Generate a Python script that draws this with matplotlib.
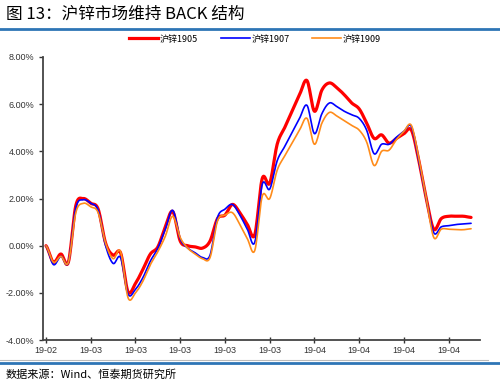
import numpy as np
import matplotlib
matplotlib.use('Agg')
import matplotlib.pyplot as plt
from matplotlib.lines import Line2D

plt.rcParams['font.family'] = ['Noto Sans CJK SC', 'DejaVu Sans']

# 数据（单位：%）
zn1905 = [0.0, -0.7, -0.35, -0.7, 1.7, 2.0, 1.8, 1.55, 0.1, -0.4,
          -0.3, -1.95, -1.6, -1.0, -0.35, -0.05, 0.8, 1.45, 0.2, 0.0,
          -0.05, -0.1, 0.2, 1.15, 1.3, 1.75, 1.4, 0.9, 0.47, 2.85,
          2.65, 4.3, 5.0, 5.7, 6.4, 7.0, 5.7, 6.6, 6.9, 6.7,
          6.4, 6.05, 5.8, 5.2, 4.55, 4.7, 4.35, 4.55, 4.75, 4.9,
          3.6, 2.0, 0.7, 1.15, 1.25, 1.25, 1.25, 1.2]
zn1907 = [0.0, -0.8, -0.45, -0.7, 1.6, 1.95, 1.8, 1.5, 0.0, -0.75,
          -0.5, -2.05, -1.85, -1.35, -0.65, -0.1, 0.7, 1.5, 0.3, -0.1,
          -0.3, -0.5, -0.4, 1.2, 1.55, 1.75, 1.3, 0.7, 0.15, 2.6,
          2.4, 3.6, 4.2, 4.8, 5.4, 5.95, 4.75, 5.6, 6.05, 5.9,
          5.7, 5.55, 5.4, 4.9, 3.9, 4.3, 4.3, 4.6, 4.85, 5.05,
          3.6, 2.0, 0.55, 0.8, 0.85, 0.9, 0.92, 0.95]
zn1909 = [0.0, -0.7, -0.45, -0.7, 1.4, 1.8, 1.65, 1.4, 0.1, -0.55,
          -0.25, -2.2, -2.0, -1.5, -0.8, -0.25, 0.4, 1.25, 0.35, -0.1,
          -0.35, -0.55, -0.5, 1.05, 1.3, 1.4, 0.9, 0.3, -0.2, 2.1,
          2.0, 3.2, 3.8, 4.35, 4.9, 5.4, 4.3, 5.2, 5.65, 5.5,
          5.3, 5.1, 4.9, 4.4, 3.4, 4.0, 4.05, 4.5, 4.85, 5.1,
          3.7, 2.0, 0.35, 0.7, 0.7, 0.68, 0.68, 0.72]
tick_labels = ['19-02', '19-03', '19-03', '19-03', '19-03',
               '19-03', '19-04', '19-04', '19-04', '19-04']
tick_step = 6


def smooth(y, n=12):
    # Catmull-Rom 平滑，类似 Excel 的平滑线
    y = np.asarray(y, dtype=float)
    p = np.concatenate([[y[0]], y, [y[-1]]])
    xs, ys = [], []
    t = np.linspace(0, 1, n, endpoint=False)
    for i in range(len(y) - 1):
        p0, p1, p2, p3 = p[i], p[i + 1], p[i + 2], p[i + 3]
        seg = 0.5 * ((2 * p1) + (-p0 + p2) * t +
                     (2 * p0 - 5 * p1 + 4 * p2 - p3) * t ** 2 +
                     (-p0 + 3 * p1 - 3 * p2 + p3) * t ** 3)
        xs.extend(i + t)
        ys.extend(seg)
    xs.append(len(y) - 1)
    ys.append(y[-1])
    return np.array(xs), np.array(ys)


fig = plt.figure(figsize=(5, 3.8), dpi=100)
ax = fig.add_axes([0.086, 0.105, 0.874, 0.745])

series = [(zn1905, '#FF0000', 2.3, '沪锌1905'),
          (zn1907, '#0000FF', 1.2, '沪锌1907'),
          (zn1909, '#FF8C1A', 1.2, '沪锌1909')]
handles = []
for vals, col, lw, lab in series:
    xs, ys = smooth(vals)
    ax.plot(xs, ys, color=col, linewidth=lw, solid_capstyle='round')
    handles.append(Line2D([0], [0], color=col, linewidth=lw, label=lab))

ax.set_ylim(-4, 8)
ax.set_xlim(-0.4, 58.2)
ax.set_yticks(np.arange(-4, 8.1, 2))
ax.set_yticklabels(['%.2f%%' % v for v in np.arange(-4, 8.1, 2)])
ax.set_xticks(np.arange(len(tick_labels)) * tick_step)
ax.set_xticklabels(tick_labels)
for lbl in ax.get_xticklabels() + ax.get_yticklabels():
    lbl.set_family(['Liberation Sans', 'DejaVu Sans'])
ax.tick_params(axis='both', labelsize=6.5, colors='#333333', length=3, width=1)
ax.tick_params(axis='x', direction='inout', length=4, pad=2)
for s in ['top', 'right']:
    ax.spines[s].set_visible(False)
for s in ['left', 'bottom']:
    ax.spines[s].set_color('#444444')
    ax.spines[s].set_linewidth(1.3)

fig.legend(handles=handles, loc='center', bbox_to_anchor=(0.51, 0.897),
           ncol=3, frameon=False, fontsize=6.5, handlelength=3.2,
           columnspacing=2.5, handletextpad=0.2)

# 标题与来源
fig.text(0.012, 0.962, '图 13：沪锌市场维持 BACK 结构', fontsize=12,
         va='center', ha='left', color='black')
fig.add_artist(Line2D([0, 1], [0.923, 0.923], color='#2E75B6', linewidth=2))
fig.add_artist(Line2D([0, 0.975], [0.053, 0.053], color='#BBBBBB', linewidth=0.8))
fig.add_artist(Line2D([0, 1], [0.044, 0.044], color='#2E75B6', linewidth=2))
fig.text(0.012, 0.014, '数据来源：Wind、恒泰期货研究所', fontsize=8,
         va='center', ha='left', color='black')

fig.savefig('out.png', dpi=100)
